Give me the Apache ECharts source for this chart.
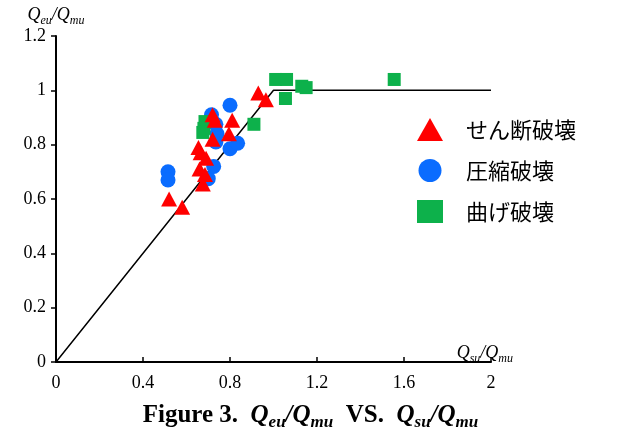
<!DOCTYPE html>
<html>
<head>
<meta charset="utf-8">
<script src="https://cdn.jsdelivr.net/npm/echarts@6/dist/echarts.min.js"></script>
<style>html,body{margin:0;padding:0;background:#fff}#c{width:621px;height:434px}</style>
</head>
<body>
<div id="c"></div>
<script>
// Data
const shearX = [0.52, 0.58, 0.675, 0.685, 0.66, 0.69, 0.665, 0.655, 0.72, 0.795, 0.81, 0.72, 0.73, 0.93, 0.965];
const shearY = [0.60, 0.57, 0.655, 0.69, 0.71, 0.75, 0.77, 0.79, 0.82, 0.84, 0.89, 0.91, 0.89, 0.99, 0.965];
const compX = [0.515, 0.515, 0.70, 0.725, 0.80, 0.835, 0.735, 0.74, 0.735, 0.715, 0.80];
const compY = [0.70, 0.67, 0.675, 0.72, 0.785, 0.805, 0.81, 0.84, 0.875, 0.91, 0.945];
const flexX = [0.685, 0.68, 0.675, 0.91, 1.01, 1.06, 1.055, 1.13, 1.15, 1.555];
const flexY = [0.885, 0.86, 0.845, 0.875, 1.04, 1.04, 0.97, 1.015, 1.01, 1.04];
const lineX = [0, 1, 2];
const lineY = [0, 1, 1];
const seriesNames = ['せん断破壊', '圧縮破壊', '曲げ破壊'];
const xTicks = {min: 0, max: 2, interval: 0.4};
const yTicks = {min: 0, max: 1.2, interval: 0.2};

const zip = (a, b) => a.map((v, i) => [v, b[i]]);
const serif = '"Liberation Serif", "DejaVu Serif", serif';
const jp = '"Noto Sans CJK JP", sans-serif';

const subRich = (size, bold) => ({
  i: {fontFamily: serif, fontStyle: 'italic', fontWeight: bold ? 'bold' : 'normal', fontSize: size, color: '#000', verticalAlign: 'bottom', lineHeight: size + 2},
  s: {fontFamily: serif, fontStyle: 'italic', fontWeight: bold ? 'bold' : 'normal', fontSize: Math.round(size * 0.68), color: '#000', verticalAlign: 'bottom', lineHeight: size - 2, padding: [0, 0, -3, 0]},
  n: {fontFamily: serif, fontWeight: 'bold', fontSize: size, color: '#000', verticalAlign: 'bottom', lineHeight: size + 2}
});

const chart = echarts.init(document.getElementById('c'), null, {renderer: 'canvas'});
chart.setOption({
  animation: false,
  backgroundColor: '#fff',
  title: {
    text: '{n|Figure 3.  }{i|Q}{s|eu}{i|/Q}{s|mu}{n|  VS.  }{i|Q}{s|su}{i|/Q}{s|mu}',
    left: 'center',
    top: 396,
    textStyle: {rich: subRich(25, true)}
  },
  grid: {left: 56, right: 130, top: 36, bottom: 72},
  legend: {
    orient: 'vertical',
    left: 412,
    top: 113,
    itemWidth: 26,
    itemHeight: 23,
    itemGap: 18,
    data: [
      {name: seriesNames[0], icon: 'triangle'},
      {name: seriesNames[1], icon: 'circle'},
      {name: seriesNames[2], icon: 'rect'}
    ],
    textStyle: {fontFamily: jp, fontSize: 22, color: '#000', padding: [0, 0, 0, 18]}
  },
  xAxis: {
    type: 'value',
    min: xTicks.min, max: xTicks.max, interval: xTicks.interval,
    name: '{i|Q}{s|su}{i|/Q}{s|mu}',
    nameLocation: 'end',
    nameGap: 22,
    nameTextStyle: {align: 'right', verticalAlign: 'bottom', padding: [0, 0, 0, 0], rich: subRich(18, false)},
    axisLine: {lineStyle: {color: '#000', width: 2}},
    axisTick: {show: true, inside: true, length: 5, lineStyle: {color: '#000', width: 1.5}},
    axisLabel: {fontFamily: serif, fontSize: 18, color: '#000', margin: 12,
      formatter: v => String(Math.round(v * 10) / 10)},
    splitLine: {show: false}
  },
  yAxis: {
    type: 'value',
    min: yTicks.min, max: yTicks.max, interval: yTicks.interval,
    name: '{i|Q}{s|eu}{i|/Q}{s|mu}',
    nameLocation: 'end',
    nameGap: 6,
    nameTextStyle: {rich: subRich(18, false)},
    axisLine: {show: true, lineStyle: {color: '#000', width: 2}},
    axisTick: {show: true, inside: false, length: 5, lineStyle: {color: '#000', width: 1.5}},
    axisLabel: {fontFamily: serif, fontSize: 18, color: '#000', margin: 10,
      formatter: v => String(Math.round(v * 10) / 10)},
    splitLine: {show: false}
  },
  series: [
    {
      type: 'line', name: 'line', data: zip(lineX, lineY), showSymbol: false, symbol: 'none',
      lineStyle: {color: '#000', width: 1.5}, z: 1, silent: true
    },
    {
      type: 'scatter', name: seriesNames[1], data: zip(compX, compY), symbol: 'circle', symbolSize: 15,
      itemStyle: {color: '#0a6cff', opacity: 1}, z: 2
    },
    {
      type: 'scatter', name: seriesNames[2], data: zip(flexX, flexY), symbol: 'rect', symbolSize: 13,
      itemStyle: {color: '#0db14b', opacity: 1}, z: 3
    },
    {
      type: 'scatter', name: seriesNames[0], data: zip(shearX, shearY), symbol: 'triangle', symbolSize: [16, 15],
      itemStyle: {color: '#ff0000', opacity: 1}, z: 4
    }
  ]
});
</script>
</body>
</html>
